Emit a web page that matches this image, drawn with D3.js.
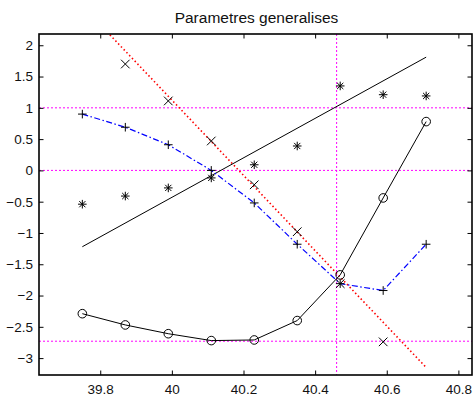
<!DOCTYPE html>
<html>
<head>
<meta charset="utf-8">
<script src="https://cdn.jsdelivr.net/npm/d3@7"></script>
<style>
  html, body { margin: 0; padding: 0; background: #fff; }
  svg { display: block; font-family: 'Liberation Sans', Arial, sans-serif; }
</style>
</head>
<body>
<div id="chart"></div>
<script>
  // Abscissas shared by every series
  const xs = [39.75, 39.87, 39.99, 40.11, 40.23, 40.35, 40.47, 40.59, 40.71];

  // Circles joined by a solid line
  const circleVals = [-2.29, -2.47, -2.61, -2.72, -2.71, -2.40, -1.67, -0.44, 0.78];
  // Asterisks, no line
  const starVals = [-0.54, -0.41, -0.28, -0.12, 0.09, 0.39, 1.35, 1.21, 1.19];
  // Crosses, no line (first and last fall outside the axes)
  const crossX = [39.87, 39.99, 40.11, 40.23, 40.35, 40.47, 40.59];
  const crossVals = [1.70, 1.11, 0.47, -0.23, -0.98, -1.81, -2.74];
  // Plus markers on the blue dash-dot line
  const plusVals = [0.90, 0.69, 0.41, 0.00, -0.52, -1.18, -1.81, -1.92, -1.18];

  // Straight fitted lines (end points)
  const blackFit = [[39.75, -1.22], [40.71, 1.81]];
  const redFit = [[39.75, 2.63], [40.71, -3.15]];

  // Reference (magenta) lines
  const hRefs = [1, 0, -2.73];
  const vRefs = [40.46];

  const xTicks = [39.8, 40, 40.2, 40.4, 40.6, 40.8];
  const yTicks = [-3, -2.5, -2, -1.5, -1, -0.5, 0, 0.5, 1, 1.5, 2];

  const W = 475, H = 396;
  const M = { top: 34, right: 3, bottom: 21, left: 39 };

  const svg = d3.select('#chart').append('svg')
    .attr('width', W).attr('height', H);

  const x = d3.scaleLinear().domain([39.629, 40.838]).range([M.left, W - M.right]);
  const y = d3.scaleLinear().domain([-3.27, 2.18]).range([H - M.bottom, M.top]);

  svg.append('defs').append('clipPath').attr('id', 'clip')
    .append('rect')
    .attr('x', M.left).attr('y', M.top)
    .attr('width', W - M.left - M.right).attr('height', H - M.top - M.bottom);

  const plot = svg.append('g').attr('clip-path', 'url(#clip)');

  // Title
  svg.append('text')
    .attr('x', (M.left + W - M.right) / 2 + 1).attr('y', 23)
    .attr('text-anchor', 'middle')
    .attr('font-size', 15.5)
    .attr('fill', '#111')
    .text('Parametres generalises');

  // Reference lines
  plot.selectAll('line.href').data(hRefs).join('line')
    .attr('class', 'href')
    .attr('x1', M.left).attr('x2', W - M.right)
    .attr('y1', d => y(d)).attr('y2', d => y(d))
    .attr('stroke', '#f0f').attr('stroke-width', 1)
    .attr('stroke-dasharray', '2,2');
  plot.selectAll('line.vref').data(vRefs).join('line')
    .attr('class', 'vref')
    .attr('y1', M.top).attr('y2', H - M.bottom)
    .attr('x1', d => x(d)).attr('x2', d => x(d))
    .attr('stroke', '#f0f').attr('stroke-width', 1)
    .attr('stroke-dasharray', '2,2');

  const line = d3.line().x(d => x(d[0])).y(d => y(d[1]));

  // Red dotted fit
  plot.append('path').datum(redFit)
    .attr('d', line).attr('fill', 'none')
    .attr('stroke', '#f00').attr('stroke-width', 1.6)
    .attr('stroke-dasharray', '1.5,2.5');

  // Black straight fit
  plot.append('path').datum(blackFit)
    .attr('d', line).attr('fill', 'none')
    .attr('stroke', '#000').attr('stroke-width', 1);

  // Blue dash-dot line
  const plusPts = xs.map((v, i) => [v, plusVals[i]]);
  plot.append('path').datum(plusPts)
    .attr('d', line).attr('fill', 'none')
    .attr('stroke', '#00f').attr('stroke-width', 1.2)
    .attr('stroke-dasharray', '6,2.5,1.5,2.5');

  // Circle series line
  const circPts = xs.map((v, i) => [v, circleVals[i]]);
  plot.append('path').datum(circPts)
    .attr('d', line).attr('fill', 'none')
    .attr('stroke', '#000').attr('stroke-width', 1);

  plot.selectAll('circle.mk').data(circPts).join('circle')
    .attr('class', 'mk')
    .attr('cx', d => x(d[0])).attr('cy', d => y(d[1]))
    .attr('r', 4.3)
    .attr('fill', 'none').attr('stroke', '#000').attr('stroke-width', 1);

  // Marker path helpers
  const s = 4.3;
  const plusD = `M${-s},0H${s}M0,${-s}V${s}`;
  const crossD = `M${-s},${-s}L${s},${s}M${-s},${s}L${s},${-s}`;
  const starD = plusD + `M${-s * 0.72},${-s * 0.72}L${s * 0.72},${s * 0.72}M${-s * 0.72},${s * 0.72}L${s * 0.72},${-s * 0.72}`;

  function markers(pts, d, cls) {
    plot.selectAll('path.' + cls).data(pts).join('path')
      .attr('class', cls)
      .attr('transform', p => `translate(${x(p[0])},${y(p[1])})`)
      .attr('d', d)
      .attr('fill', 'none').attr('stroke', '#000').attr('stroke-width', 1);
  }

  markers(plusPts, plusD, 'plus');
  markers(crossX.map((v, i) => [v, crossVals[i]]), crossD, 'cross');
  markers(xs.map((v, i) => [v, starVals[i]]), starD, 'star');

  // Axes box
  const gx = svg.append('g');
  const bottomAx = d3.axisBottom(x).tickValues(xTicks).tickSize(-4.5).tickPadding(9)
    .tickFormat(d3.format('~g'));
  const topAx = d3.axisTop(x).tickValues(xTicks).tickSize(-4.5).tickFormat('');
  const leftAx = d3.axisLeft(y).tickValues(yTicks).tickSize(-4.5).tickPadding(6)
    .tickFormat(d3.format('~g'));
  const rightAx = d3.axisRight(y).tickValues(yTicks).tickSize(-4.5).tickFormat('');

  gx.append('g').attr('transform', `translate(0,${H - M.bottom})`).call(bottomAx);
  gx.append('g').attr('transform', `translate(0,${M.top})`).call(topAx);
  gx.append('g').attr('transform', `translate(${M.left},0)`).call(leftAx);
  gx.append('g').attr('transform', `translate(${W - M.right},0)`).call(rightAx);

  gx.selectAll('.domain').remove();
  gx.selectAll('.tick line').attr('stroke', '#000').attr('stroke-width', 1);
  gx.selectAll('.tick text').attr('font-size', 13.5).attr('fill', '#111')
    .attr('font-family', "'Liberation Sans', Arial, sans-serif");

  svg.append('rect')
    .attr('x', M.left).attr('y', M.top)
    .attr('width', W - M.left - M.right).attr('height', H - M.top - M.bottom)
    .attr('fill', 'none').attr('stroke', '#000').attr('stroke-width', 1.6);
</script>
</body>
</html>
